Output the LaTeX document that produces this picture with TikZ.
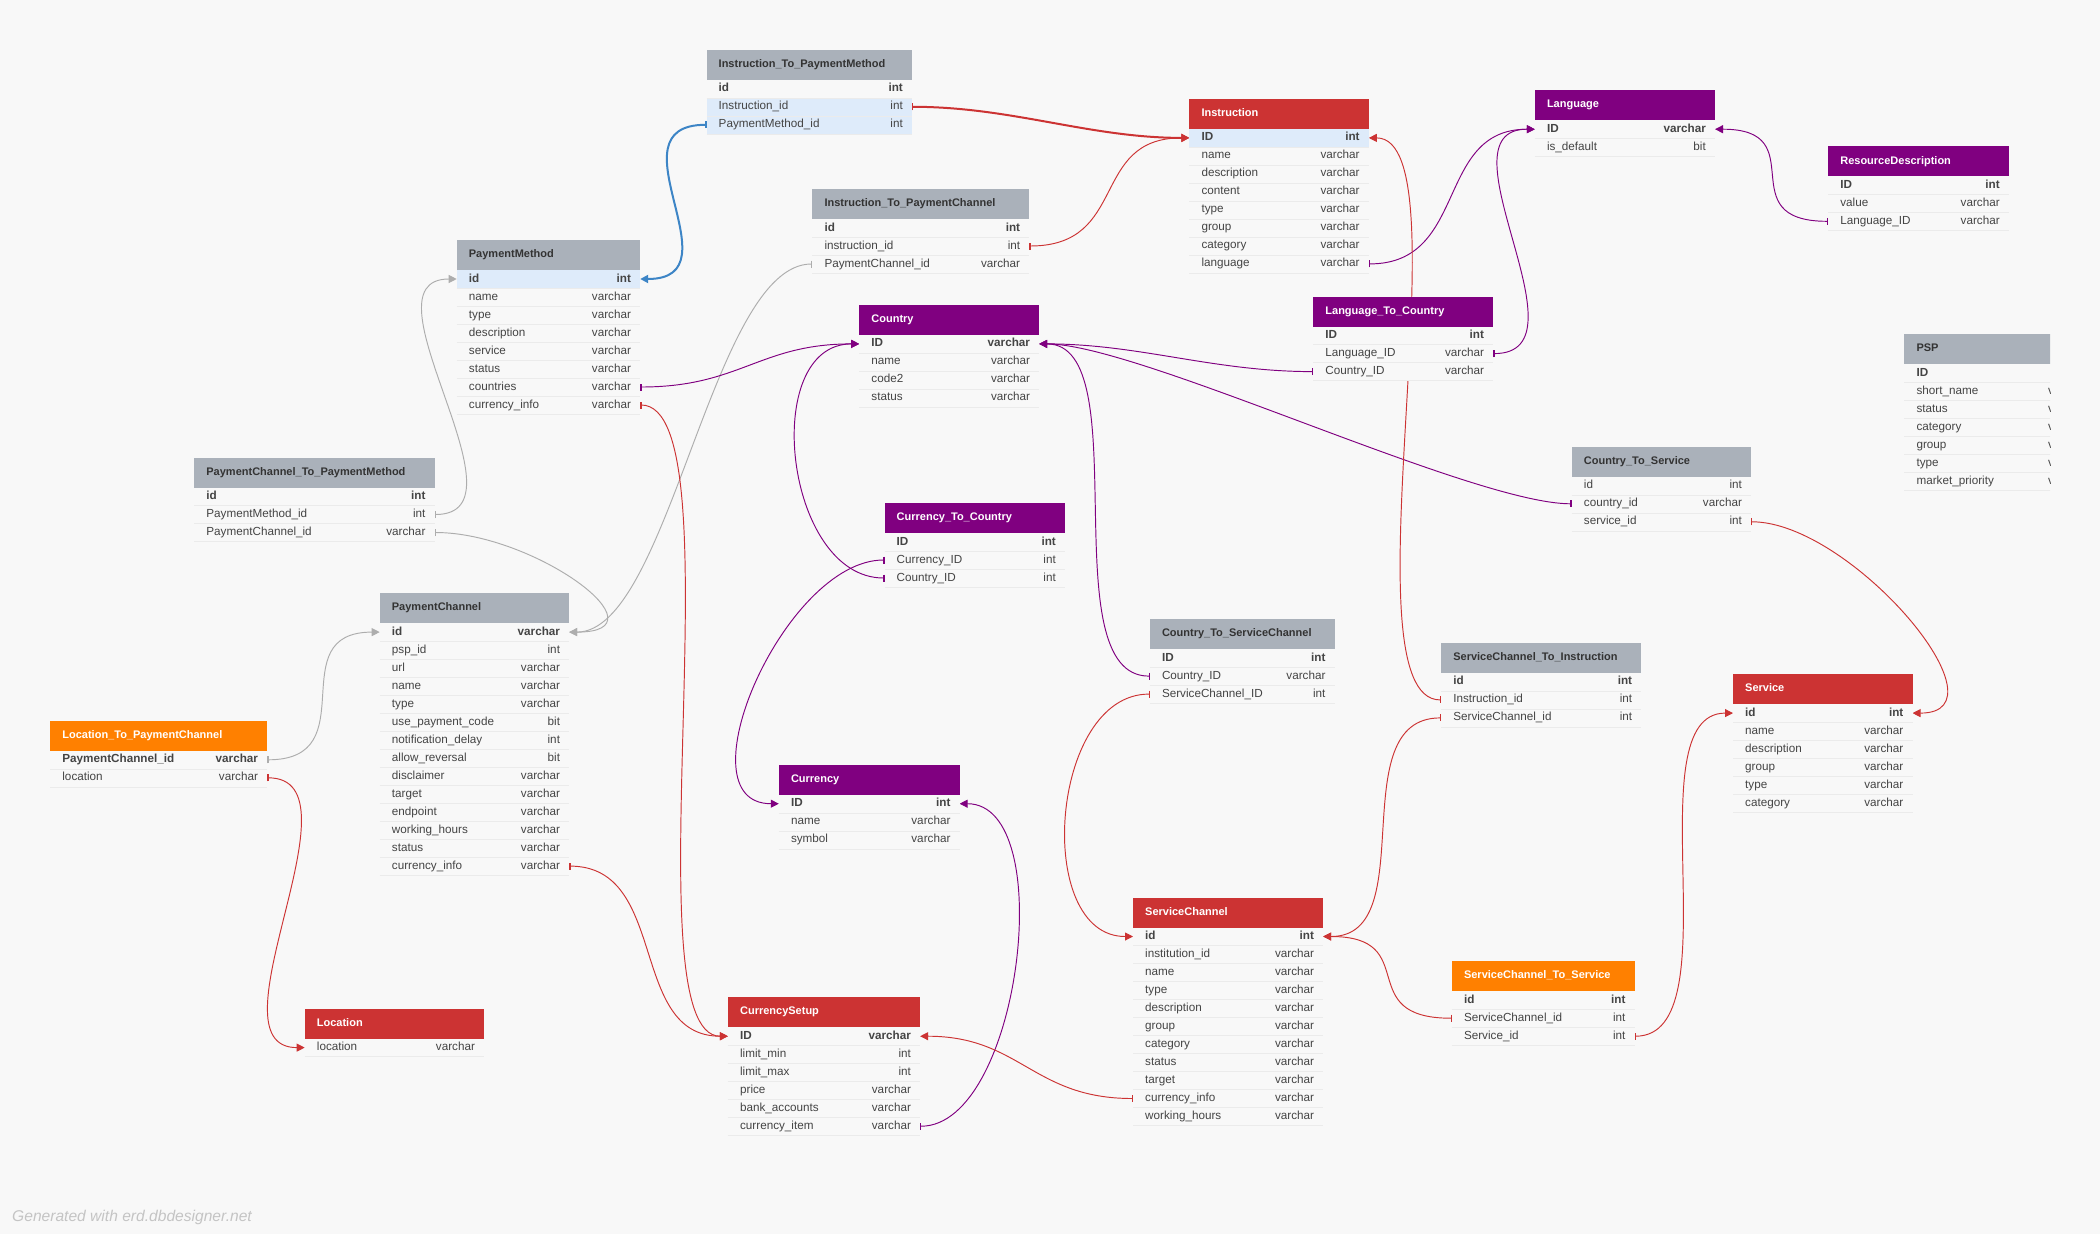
\documentclass[tikz,border=0pt]{standalone}
\usepackage{fontspec}
\setmainfont{Liberation Sans}
\usetikzlibrary{arrows.meta}

\definecolor{erdbg}{HTML}{F8F8F8}
\definecolor{erdgray}{HTML}{AAB1BA}
\definecolor{erdred}{HTML}{CC3333}
\definecolor{erdpurple}{HTML}{800080}
\definecolor{erdorange}{HTML}{FF8000}
\definecolor{erdhl}{HTML}{DEEBFA}
\definecolor{erdblue}{HTML}{3D85C6}
\definecolor{erdline}{HTML}{ADADAD}
\definecolor{erdsep}{HTML}{EBEBEB}
\definecolor{erdtext}{HTML}{444444}
\definecolor{erdtitle}{HTML}{333333}
\definecolor{erdfoot}{HTML}{C4C4C4}

\pgfdeclarelayer{canvas}
\pgfdeclarelayer{links}
\pgfdeclarelayer{body}
\pgfdeclarelayer{rowhl}
\pgfsetlayers{canvas,links,body,rowhl,main}

\tikzset{
  hdrbox/.style={anchor=north west, minimum height=30pt, inner sep=0pt, outer sep=0pt},
  hdrtxt/.style={anchor=west, inner sep=0pt, text height=8pt, text depth=2.5pt, font=\fontsize{11}{13}\selectfont\bfseries},
  rowbox/.style={anchor=north west, minimum height=18pt, inner sep=0pt, outer sep=0pt},
  fldtxt/.style={inner sep=0pt, text=erdtext, text height=8.5pt, text depth=2.5pt, font=\fontsize{11.7}{14}\selectfont},
  link/.style={line width=0.95pt, {Bar[width=7pt,line width=1.3pt]}-{Triangle[length=8pt,width=8pt]}},
  linkhl/.style={link, line width=2pt},
}

% #1 node name, #2 title, #3 x, #4 y, #5 width, #6 header fill, #7 title colour, #8 rows
\newcommand\erdtable[8]{%
  \node[hdrbox, fill=#6, minimum width=#5pt] (#1) at (#3,#4) {};
  \node[hdrtxt, text=#7] at ([xshift=12pt]#1.west) {#2};
  \foreach \fld/\typ [count=\i] in {#8} {
    \node[rowbox, minimum width=#5pt] (#1-\i) at (#3,{#4+30+(\i-1)*18}) {};
    \begin{pgfonlayer}{body}
      \fill[erdbg] (#1-\i.north west) rectangle (#1-\i.south east);
    \end{pgfonlayer}
    \draw[erdsep] (#1-\i.south west) -- (#1-\i.south east);
    \node[fldtxt, anchor=west] at ([xshift=12pt]#1-\i.west) {\fld};
    \node[fldtxt, anchor=east] at ([xshift=-9pt]#1-\i.east) {\typ};
  }%
}

\begin{document}
\begin{tikzpicture}[x=1pt, y=-1pt]
  \useasboundingbox (0,0) rectangle (2100,1234);
  \begin{pgfonlayer}{canvas}
    \fill[erdbg] (0,0) rectangle (2100,1234);
  \end{pgfonlayer}

  \erdtable{instrpm}{Instruction\_To\_PaymentMethod}{706.5}{49.8}{205.5}{erdgray}{erdtitle}
    {\textbf{id}/\textbf{int}, Instruction\_id/int, PaymentMethod\_id/int}
  \erdtable{instrpc}{Instruction\_To\_PaymentChannel}{812.3}{189}{217}{erdgray}{erdtitle}
    {\textbf{id}/\textbf{int}, instruction\_id/int, PaymentChannel\_id/varchar}
  \erdtable{paymethod}{PaymentMethod}{456.7}{240}{183.5}{erdgray}{erdtitle}
    {\textbf{id}/\textbf{int}, name/varchar, type/varchar, description/varchar, service/varchar,
     status/varchar, countries/varchar, currency\_info/varchar}
  \erdtable{pcpm}{PaymentChannel\_To\_PaymentMethod}{194.2}{457.5}{240.4}{erdgray}{erdtitle}
    {\textbf{id}/\textbf{int}, PaymentMethod\_id/int, PaymentChannel\_id/varchar}
  \erdtable{paychannel}{PaymentChannel}{379.7}{593.1}{189.5}{erdgray}{erdtitle}
    {\textbf{id}/\textbf{varchar}, psp\_id/int, url/varchar, name/varchar, type/varchar,
     use\_payment\_code/bit, notification\_delay/int, allow\_reversal/bit, disclaimer/varchar,
     target/varchar, endpoint/varchar, working\_hours/varchar, status/varchar, currency\_info/varchar}
  \erdtable{locpc}{Location\_To\_PaymentChannel}{50.2}{720.8}{217}{erdorange}{white}
    {\textbf{PaymentChannel\_id}/\textbf{varchar}, location/varchar}
  \erdtable{location}{Location}{304.7}{1008.6}{179.5}{erdred}{white}
    {location/varchar}
  \erdtable{country}{Country}{859.2}{304.9}{180}{erdpurple}{white}
    {\textbf{ID}/\textbf{varchar}, name/varchar, code2/varchar, status/varchar}
  \erdtable{curcountry}{Currency\_To\_Country}{884.5}{503}{180.5}{erdpurple}{white}
    {\textbf{ID}/\textbf{int}, Currency\_ID/int, Country\_ID/int}
  \erdtable{currency}{Currency}{778.8}{764.7}{180.8}{erdpurple}{white}
    {\textbf{ID}/\textbf{int}, name/varchar, symbol/varchar}
  \erdtable{cursetup}{CurrencySetup}{727.9}{997.2}{192.2}{erdred}{white}
    {\textbf{ID}/\textbf{varchar}, limit\_min/int, limit\_max/int, price/varchar,
     bank\_accounts/varchar, currency\_item/varchar}
  \erdtable{instruction}{Instruction}{1189.3}{98.9}{179.5}{erdred}{white}
    {\textbf{ID}/\textbf{int}, name/varchar, description/varchar, content/varchar, type/varchar,
     group/varchar, category/varchar, language/varchar}
  \erdtable{language}{Language}{1534.8}{90.2}{180.2}{erdpurple}{white}
    {\textbf{ID}/\textbf{varchar}, is\_default/bit}
  \erdtable{resdesc}{ResourceDescription}{1828.1}{146.3}{180.8}{erdpurple}{white}
    {\textbf{ID}/\textbf{int}, value/varchar, Language\_ID/varchar}
  \erdtable{langcountry}{Language\_To\_Country}{1313.2}{296.6}{180}{erdpurple}{white}
    {\textbf{ID}/\textbf{int}, Language\_ID/varchar, Country\_ID/varchar}
  \begin{scope}
    \clip (0,0) rectangle (2050,1234);
    \erdtable{psp}{PSP}{1904.3}{334}{192}{erdgray}{erdtitle}
      {\textbf{ID}/\textbf{int}, short\_name/varchar, status/varchar, category/varchar,
       group/varchar, type/varchar, market\_priority/varchar}
  \end{scope}
  \erdtable{countryservice}{Country\_To\_Service}{1571.7}{446.8}{179.4}{erdgray}{erdtitle}
    {id/int, country\_id/varchar, service\_id/int}
  \erdtable{countrysc}{Country\_To\_ServiceChannel}{1149.8}{619.1}{184.8}{erdgray}{erdtitle}
    {\textbf{ID}/\textbf{int}, Country\_ID/varchar, ServiceChannel\_ID/int}
  \erdtable{scinstr}{ServiceChannel\_To\_Instruction}{1441.1}{642.9}{200.2}{erdgray}{erdtitle}
    {\textbf{id}/\textbf{int}, Instruction\_id/int, ServiceChannel\_id/int}
  \erdtable{service}{Service}{1733}{674.1}{179.5}{erdred}{white}
    {\textbf{id}/\textbf{int}, name/varchar, description/varchar, group/varchar, type/varchar,
     category/varchar}
  \erdtable{servicechannel}{ServiceChannel}{1133}{897.5}{190.2}{erdred}{white}
    {\textbf{id}/\textbf{int}, institution\_id/varchar, name/varchar, type/varchar,
     description/varchar, group/varchar, category/varchar, status/varchar, target/varchar,
     currency\_info/varchar, working\_hours/varchar}
  \erdtable{scservice}{ServiceChannel\_To\_Service}{1451.8}{961.2}{182.8}{erdorange}{white}
    {\textbf{id}/\textbf{int}, ServiceChannel\_id/int, Service\_id/int}

  % highlighted rows
  \begin{pgfonlayer}{rowhl}
    \foreach \r in {instrpm-2, instrpm-3, paymethod-1, instruction-1}
      \fill[erdhl] (\r.north west) rectangle (\r.south east);
  \end{pgfonlayer}

  % relations
  \begin{pgfonlayer}{links}
    \draw[linkhl, erdred] (instrpm-2.east) .. controls +(100,0) and +(-100,0) .. (instruction-1.west);
    \draw[linkhl, erdblue] (instrpm-3.west) .. controls +(-100,0) and +(100,0) .. (paymethod-1.east);
    \draw[link, erdred] (instrpc-2.east) .. controls +(100,0) and +(-100,0) .. (instruction-1.west);
    \draw[link, erdline] (instrpc-3.west) .. controls +(-100,0) and +(100,0) .. (paychannel-1.east);
    \draw[link, erdline] (pcpm-2.east) .. controls +(100,0) and +(-100,0) .. (paymethod-1.west);
    \draw[link, erdline] (pcpm-3.east) .. controls +(100,0) and +(100,0) .. (paychannel-1.east);
    \draw[link, erdline] (locpc-1.east) .. controls +(100,0) and +(-100,0) .. (paychannel-1.west);
    \draw[link, erdred] (locpc-2.east) .. controls +(100,0) and +(-100,0) .. (location-1.west);
    \draw[link, erdpurple] (paymethod-7.east) .. controls +(100,0) and +(-100,0) .. (country-1.west);
    \draw[link, erdred] (paymethod-8.east) .. controls +(100,0) and +(-100,0) .. (cursetup-1.west);
    \draw[link, erdred] (paychannel-14.east) .. controls +(100,0) and +(-100,0) .. (cursetup-1.west);
    \draw[link, erdpurple] (curcountry-2.west) .. controls +(-100,0) and +(-100,0) .. (currency-1.west);
    \draw[link, erdpurple] (curcountry-3.west) .. controls +(-100,0) and +(-100,0) .. (country-1.west);
    \draw[link, erdpurple] (cursetup-6.east) .. controls +(100,0) and +(100,0) .. (currency-1.east);
    \draw[link, erdpurple] (langcountry-3.west) .. controls +(-100,0) and +(100,0) .. (country-1.east);
    \draw[link, erdpurple] (langcountry-2.east) .. controls +(100,0) and +(-100,0) .. (language-1.west);
    \draw[link, erdpurple] (instruction-8.east) .. controls +(100,0) and +(-100,0) .. (language-1.west);
    \draw[link, erdpurple] (resdesc-3.west) .. controls +(-100,0) and +(100,0) .. (language-1.east);
    \draw[link, erdpurple] (countryservice-2.west) .. controls +(-100,0) and +(100,0) .. (country-1.east);
    \draw[link, erdred] (countryservice-3.east) .. controls +(100,0) and +(100,0) .. (service-1.east);
    \draw[link, erdpurple] (countrysc-2.west) .. controls +(-100,0) and +(100,0) .. (country-1.east);
    \draw[link, erdred] (countrysc-3.west) .. controls +(-100,0) and +(-100,0) .. (servicechannel-1.west);
    \draw[link, erdred] (scinstr-2.west) .. controls +(-100,0) and +(100,0) .. (instruction-1.east);
    \draw[link, erdred] (scinstr-3.west) .. controls +(-100,0) and +(100,0) .. (servicechannel-1.east);
    \draw[link, erdred] (scservice-2.west) .. controls +(-100,0) and +(100,0) .. (servicechannel-1.east);
    \draw[link, erdred] (scservice-3.east) .. controls +(100,0) and +(-100,0) .. (service-1.west);
    \draw[link, erdred] (servicechannel-10.west) .. controls +(-100,0) and +(100,0) .. (cursetup-1.east);
  \end{pgfonlayer}

  \node[anchor=west, inner sep=0pt, text=erdfoot, font=\fontsize{15.6}{18}\selectfont\itshape] (footer)
    at (12,1217) {Generated with erd.dbdesigner.net};
\end{tikzpicture}
\end{document}
